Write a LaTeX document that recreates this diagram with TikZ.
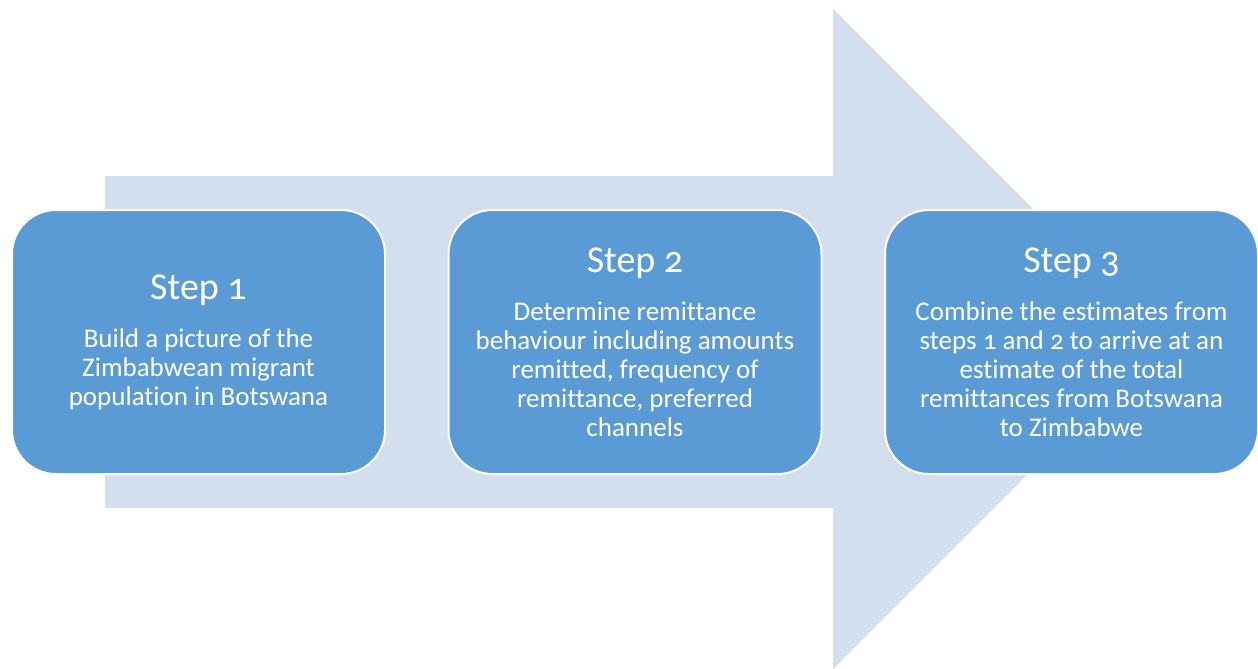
\documentclass[tikz,border=0pt]{standalone}
\usepackage{fontspec}
\setmainfont{Carlito}[Numbers=OldStyle, Ligatures=NoCommon]
\definecolor{arrowfill}{HTML}{D3DEEF}
\definecolor{boxfill}{HTML}{5B9BD5}
\newcommand{\steptitle}[1]{{\fontsize{38}{38}\selectfont #1}}
\begin{document}
\begin{tikzpicture}[x=1pt,y=-1pt,
  stepbox/.style={draw=white, line width=2pt, fill=boxfill, rounded corners=44pt,
    minimum width=373pt, minimum height=264pt, inner sep=0pt, text=white, align=center,
    font=\fontsize{27}{29}\selectfont}]
\useasboundingbox (0,0) rectangle (1258,669);
\fill[arrowfill] (105,176) -- (833,176) -- (833,9) -- (1163,339) -- (833,669) -- (833,508) -- (105,508) -- cycle;
\node[stepbox] (s1) at (198.5,342) {\steptitle{Step 1}\\[19pt]Build a picture of the\\Zimbabwean migrant\\population in Botswana};
\node[stepbox] (s2) at (635,342) {\steptitle{Step 2}\\[19pt]Determine remittance\\behaviour including amounts\\remitted, frequency of\\remittance, preferred\\channels};
\node[stepbox] (s3) at (1071.5,342) {\steptitle{Step 3}\\[19pt]Combine the estimates from\\steps 1 and 2 to arrive at an\\estimate of the total\\remittances from Botswana\\to Zimbabwe};
\end{tikzpicture}
\end{document}
